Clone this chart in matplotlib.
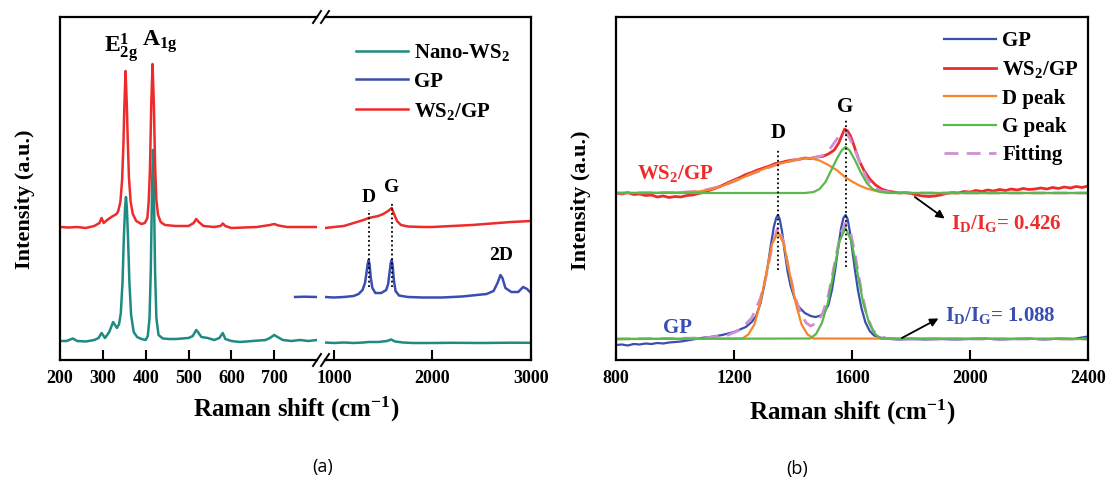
import matplotlib
matplotlib.use('Agg')
import matplotlib.pyplot as plt
from matplotlib.lines import Line2D

plt.rcParams['font.family'] = ['Liberation Serif', 'DejaVu Serif']
plt.rcParams['font.weight'] = 'bold'
plt.rcParams['axes.labelweight'] = 'bold'
plt.rcParams['mathtext.default'] = 'regular'
plt.rcParams['axes.linewidth'] = 1.6

C_TEAL = '#1e8a82'
C_BLUE = '#3a4db0'
C_RED = '#ee2b2b'
C_ORANGE = '#f5862a'
C_GREEN = '#5ab94a'
C_FIT = '#cf8fd6'

# ---------------- Panel (a) data (arbitrary intensity units) ----------------
# Nano-WS2, low-wavenumber segment
teal_lo_x = [200, 215, 230, 240, 260, 280, 290, 297, 305, 315, 324, 333, 338, 342, 346, 349, 352, 354, 356, 359,
             362, 366, 372, 380, 390, 400, 405, 409, 412, 415, 417, 419, 422, 425, 430, 440, 455, 470, 500, 510,
             518, 522, 530, 545, 560, 572, 580, 586, 600, 620, 650, 680, 690, 700, 708, 720, 740, 760, 780, 800]
teal_lo_y = [19, 19, 21.5, 19, 18.5, 20, 22, 27, 22, 28, 38, 32, 36, 47, 78, 122, 153, 163, 153, 120,
             78, 45, 28, 23, 21, 20, 24, 42, 90, 175, 210, 175, 88, 42, 25, 21.5, 21, 21, 22, 24,
             30, 28, 23, 22, 20, 22, 27, 21, 19, 18, 19, 20, 22, 25, 23, 20, 19, 20, 19, 20]
# Nano-WS2, high-wavenumber segment
teal_hi_x = [910, 1000, 1100, 1200, 1300, 1350, 1450, 1540, 1580, 1620, 1700, 1800, 2000, 2200, 2500, 2800, 3000]
teal_hi_y = [17.5, 17, 17.5, 17, 17.5, 18, 18, 19, 20.5, 18.5, 17.5, 17, 17, 17.2, 17, 17.3, 17.2]

# GP
gp_lo_x = [749, 770, 800]
gp_lo_y = [63, 63.3, 63]
gp_hi_x = [910, 1000, 1100, 1200, 1250, 1290, 1315, 1330, 1342, 1352, 1362, 1374, 1390, 1420, 1480, 1530, 1550,
           1565, 1576, 1586, 1596, 1608, 1625, 1660, 1750, 1900, 2100, 2300, 2450, 2550, 2620, 2660, 2690, 2710,
           2740, 2800, 2870, 2920, 2960, 3000]
gp_hi_y = [63, 62.5, 63, 64, 66, 70, 77, 87, 96, 100, 95, 82, 72, 67, 67, 70, 76,
           88, 97, 100, 94, 80, 69, 64.5, 63, 62.5, 62.5, 63.5, 65, 66, 69, 77, 85, 82,
           72, 68, 68, 73, 71, 67]

# WS2/GP
ws_lo_x = [200, 220, 240, 260, 280, 292, 297, 302, 310, 320, 332, 336, 341, 345, 348, 350, 353, 356, 358, 361,
           365, 370, 378, 390, 398, 404, 407, 410, 413, 416, 419, 422, 425, 429, 435, 445, 470, 500, 512, 518,
           524, 535, 560, 575, 580, 586, 600, 630, 660, 690, 700, 710, 730, 760, 800]
ws_lo_y = [133, 132.5, 133, 132, 134, 137, 142, 137, 140, 143, 146, 149, 158, 180, 215, 250, 289, 255, 222, 182,
           158, 146, 139, 136, 137, 142, 158, 190, 255, 296, 258, 195, 160, 145, 138, 135, 134, 134, 137, 141,
           138, 134, 133, 134, 136.5, 134, 132, 132.5, 133, 135, 136, 134.5, 133, 133, 133]
ws_hi_x = [910, 1000, 1100, 1200, 1300, 1352, 1400, 1450, 1500, 1550, 1586, 1610, 1640, 1680, 1750, 1900, 2000,
           2200, 2400, 2600, 2800, 3000]
ws_hi_y = [132, 133, 134, 137, 140, 142, 143, 144, 146, 149, 152, 146, 139, 135, 133.5, 133, 133,
           134, 135, 136.5, 138, 139]

a_peak_pos = [1352, 1586]
a_peak_top = [150, 158]
a_peak_bottom = [73, 73]

# ---------------- Panel (b) data ----------------
b_ws_x = [800, 820, 840, 860, 880, 900, 920, 940, 960, 980, 1000, 1020, 1040, 1060, 1080, 1100, 1120, 1140, 1160,
          1180, 1200, 1220, 1240, 1260, 1280, 1300, 1320, 1340, 1360, 1380, 1400, 1420, 1440, 1460, 1480, 1500,
          1520, 1540, 1555, 1565, 1575, 1585, 1595, 1605, 1615, 1625, 1640, 1660, 1680, 1700, 1720, 1740, 1760,
          1780, 1800, 1820, 1840, 1860, 1880, 1900, 1920, 1940, 1960, 1980, 2000, 2020, 2040, 2060, 2080, 2100,
          2120, 2140, 2160, 2180, 2200, 2220, 2240, 2260, 2280, 2300, 2320, 2340, 2360, 2380, 2400]
b_ws_y = [167, 166, 167.5, 165.5, 166, 164.5, 165, 163, 164, 162.5, 163.5, 163, 164.5, 165, 166.5, 168, 170, 172,
          174.5, 177.5, 180, 182.5, 185.5, 187.5, 190, 192, 194, 196.5, 197.5, 199, 200, 200.5, 202, 201.5, 203,
          203.5, 206, 210, 217, 224, 231, 229, 224, 216, 207, 199, 190, 181, 175, 171, 169, 168, 167, 167.5, 166.5,
          165, 164, 163.5, 164, 165, 166.5, 167.5, 167, 168.5, 168, 169.5, 168.5, 170, 169, 170.5, 169.5, 171, 170,
          171.5, 170.5, 171, 172, 171, 172.5, 171.5, 173, 172, 173.5, 172.5, 174]
b_ws_d_x = [800, 1000, 1080, 1120, 1160, 1200, 1250, 1300, 1350, 1400, 1430, 1458, 1490, 1520, 1550, 1576, 1600,
            1625, 1650, 1675, 1700, 1740, 1800, 2400]
b_ws_d_y = [167, 167.5, 168.5, 170.5, 174, 178.5, 185, 191, 196, 199.5, 201.5, 202, 199.5, 195, 189.5, 183, 178.5,
            174.5, 171.5, 169.5, 168, 167.3, 167, 167]
b_ws_g_x = [800, 1440, 1470, 1490, 1510, 1530, 1550, 1565, 1578, 1592, 1610, 1630, 1650, 1670, 1695, 1730, 2400]
b_ws_g_y = [167, 167, 168, 171, 178, 190, 202, 209.5, 213, 209.5, 200, 187.5, 177, 171, 168, 167, 167]
b_ws_fit_x = [800, 1000, 1080, 1160, 1250, 1350, 1430, 1470, 1500, 1530, 1550, 1565, 1578, 1592, 1610, 1630,
              1650, 1675, 1700, 1740, 1800, 2400]
b_ws_fit_y = [167, 167.5, 168.5, 174, 185, 196, 201.5, 202, 204.5, 213, 221.5, 226.5, 228, 222, 210, 195,
              181.5, 172, 169, 167.5, 167, 167]

b_gp_x = [800, 820, 840, 860, 880, 900, 920, 940, 960, 980, 1000, 1020, 1040, 1060, 1080, 1100, 1120, 1140, 1160,
          1180, 1200, 1220, 1240, 1260, 1275, 1290, 1305, 1315, 1325, 1335, 1343, 1349, 1355, 1363, 1372, 1382,
          1392, 1405, 1420, 1440, 1460, 1475, 1490, 1505, 1520, 1532, 1543, 1553, 1563, 1571, 1578, 1585, 1593,
          1601, 1610, 1620, 1632, 1645, 1660, 1675, 1700, 1730, 1760, 1800, 1850, 1900, 1950, 2000, 2050, 2100,
          2150, 2200, 2250, 2300, 2350, 2380, 2400]
b_gp_y = [15, 15.5, 14.5, 16, 15.5, 16.5, 16, 17, 16.5, 17.5, 18, 18.5, 19.5, 20.5, 21.5, 22.5, 23, 24, 25,
          26.5, 28, 30.5, 33, 38, 44, 57, 78, 95, 115, 133, 142, 145, 141, 128, 108, 88,
          74, 62, 53, 47, 44, 43, 44, 47, 55, 70, 90, 112, 132, 142, 145, 141, 128,
          110, 90, 70, 52, 38, 29, 24.5, 22, 21, 20.5, 21, 20.5, 21, 20.5, 21, 21.5, 20.5,
          21, 21.5, 20.5, 21.5, 21, 22.5, 23.5]
b_gp_d_x = [800, 1229, 1249, 1269, 1289, 1309, 1329, 1349, 1369, 1389, 1409, 1429, 1449, 1469, 2400]
b_gp_d_y = [21, 21.5, 25.7, 35.5, 57, 86, 116, 128, 116, 86, 57, 35.5, 25.7, 21.5, 21]
b_gp_g_x = [800, 1458, 1478, 1498, 1518, 1538, 1558, 1578, 1598, 1618, 1638, 1658, 1678, 1698, 2400]
b_gp_g_y = [21, 21.5, 26, 37, 57, 88, 119, 132, 119, 88, 57, 37, 26, 21.5, 21]
b_gp_fit_x = [800, 1100, 1180, 1220, 1260, 1290, 1310, 1330, 1349, 1368, 1385, 1405, 1425, 1445, 1460, 1480,
              1500, 1520, 1540, 1560, 1578, 1595, 1612, 1630, 1650, 1670, 1690, 1720, 1760, 2400]
b_gp_fit_y = [21, 22, 25, 30, 42, 62, 85, 115, 133, 118, 92, 65, 47, 37, 34, 37,
              46, 65, 95, 125, 137, 128, 103, 72, 45, 30, 24, 21.5, 21, 21]

b_peak_pos = [1349, 1578]
b_peak_top = [210, 240]
b_peak_bottom = [90, 93]

# ---------------- Figure ----------------
W, H = 1108, 482
fig = plt.figure(figsize=(W / 100, H / 100), dpi=100)


def box(l, r, t, b):
    return [l / W, 1 - b / H, (r - l) / W, (b - t) / H]


ax1 = fig.add_axes(box(60, 317, 17, 360))
ax2 = fig.add_axes(box(325, 531, 17, 360))
axb = fig.add_axes(box(616, 1088, 17, 360))

LW = 1.8
hT, = ax1.plot(teal_lo_x, teal_lo_y, color=C_TEAL, lw=LW)
ax2.plot(teal_hi_x, teal_hi_y, color=C_TEAL, lw=LW)
hB, = ax1.plot(gp_lo_x, gp_lo_y, color=C_BLUE, lw=LW)
ax2.plot(gp_hi_x, gp_hi_y, color=C_BLUE, lw=LW)
hR, = ax1.plot(ws_lo_x, ws_lo_y, color=C_RED, lw=LW)
ax2.plot(ws_hi_x, ws_hi_y, color=C_RED, lw=LW)

ax2.vlines(a_peak_pos, a_peak_bottom, a_peak_top, colors='black', linestyles=(0, (1, 1.5)), lw=1.3)

ax1.set_xlim(200, 800)
ax2.set_xlim(909, 3000)
for a in (ax1, ax2):
    a.set_ylim(0, 343)
    a.set_yticks([])
    a.tick_params(axis='x', direction='in', length=7, width=1.5, labelsize=13, pad=7)
ax1.set_xticks([200, 300, 400, 500, 600, 700])
ax2.set_xticks([1000, 2000, 3000])
ax1.spines['right'].set_visible(False)
ax2.spines['left'].set_visible(False)

# break marks
for xp in (317, 325):
    for yp in (17, 360):
        fig.add_artist(Line2D([(xp - 4) / W, (xp + 4) / W], [1 - (yp + 6) / H, 1 - (yp - 6) / H],
                              color='black', lw=1.4, transform=fig.transFigure, clip_on=False))

ax1.text(342, 312, r'$E^1_{2g}$', fontsize=17, ha='center', va='center')
ax1.text(433, 318, r'$A_{1g}$', fontsize=17, ha='center', va='center')
ax2.text(1352, 163, 'D', fontsize=14, ha='center', va='center')
ax2.text(1586, 172, 'G', fontsize=14, ha='center', va='center')
ax2.text(2697, 105, '2D', fontsize=14, ha='center', va='center')

ax1.set_ylabel('Intensity (a.u.)', fontsize=16)
ax1.yaxis.set_label_coords((35 - 60) / 257, (360 - 199) / 343)
fig.text(296 / W, 1 - 409 / H, 'Raman shift (cm$^{-1}$)', fontsize=18, ha='center', va='center')

ax2.legend(handles=[hT, hB, hR], labels=['Nano-WS$_2$', 'GP', 'WS$_2$/GP'], loc='upper left',
           bbox_to_anchor=(356 / W, 1 - 42 / H), bbox_transform=fig.transFigure, frameon=False,
           fontsize=15, handlelength=2.5, handletextpad=0.3, labelspacing=0.42, borderpad=0, borderaxespad=0)

# ---------------- Panel (b) ----------------
l_ws, = axb.plot(b_ws_x, b_ws_y, color=C_RED, lw=2.0)
l_gp, = axb.plot(b_gp_x, b_gp_y, color=C_BLUE, lw=1.6)
l_fit, = axb.plot(b_ws_fit_x, b_ws_fit_y, color=C_FIT, lw=2.0, ls=(0, (5, 3)))
axb.plot(b_gp_fit_x, b_gp_fit_y, color=C_FIT, lw=2.0, ls=(0, (5, 3)))
l_d, = axb.plot(b_ws_d_x, b_ws_d_y, color=C_ORANGE, lw=1.6)
axb.plot(b_gp_d_x, b_gp_d_y, color=C_ORANGE, lw=1.6)
l_g, = axb.plot(b_ws_g_x, b_ws_g_y, color=C_GREEN, lw=1.6)
axb.plot(b_gp_g_x, b_gp_g_y, color=C_GREEN, lw=1.6)

axb.vlines(b_peak_pos, b_peak_bottom, b_peak_top, colors='black', linestyles=(0, (1, 1.5)), lw=1.3)
axb.text(1349, 227, 'D', fontsize=15, ha='center', va='center')
axb.text(1576, 253, 'G', fontsize=15, ha='center', va='center')
axb.text(1000, 187, 'WS$_2$/GP', fontsize=15, color=C_RED, ha='center', va='center')
axb.text(1007, 32, 'GP', fontsize=15, color=C_BLUE, ha='center', va='center')

axb.annotate('I$_D$/I$_G$= 0.426', xy=(1813, 163), xytext=(1935, 137), fontsize=15, color=C_RED,
             ha='left', va='center',
             arrowprops=dict(arrowstyle='<|-', color='black', lw=1.3, shrinkA=3, shrinkB=0,
                             mutation_scale=12, relpos=(0, 0.5)))
axb.annotate('I$_D$/I$_G$= 1.088', xy=(1769, 22), xytext=(1915, 45), fontsize=15, color=C_BLUE,
             ha='left', va='center',
             arrowprops=dict(arrowstyle='<|-', color='black', lw=1.3, shrinkA=3, shrinkB=0,
                             mutation_scale=12, relpos=(0, 0.5)))

axb.set_xlim(800, 2400)
axb.set_ylim(0, 343)
axb.set_yticks([])
axb.set_xticks([800, 1200, 1600, 2000, 2400])
axb.tick_params(axis='x', direction='in', length=7, width=1.5, labelsize=13, pad=7)
axb.set_ylabel('Intensity (a.u.)', fontsize=16)
axb.yaxis.set_label_coords((591 - 616) / 472, (360 - 200) / 343)
axb.set_xlabel('Raman shift (cm$^{-1}$)', fontsize=18, labelpad=8)

axb.legend(handles=[l_gp, l_ws, l_d, l_g, l_fit], labels=['GP', 'WS$_2$/GP', 'D peak', 'G peak', 'Fitting'],
           loc='upper left', bbox_to_anchor=(944 / W, 1 - 31 / H), bbox_transform=fig.transFigure,
           frameon=False, fontsize=15, handlelength=2.5, handletextpad=0.3, labelspacing=0.4,
           borderpad=0, borderaxespad=0)

fig.text(323 / W, 1 - 467 / H, '(a)', fontsize=13, fontfamily='Open Sans', fontweight='normal',
         ha='center', va='center')
fig.text(797 / W, 1 - 469 / H, '(b)', fontsize=13, fontfamily='Open Sans', fontweight='normal',
         ha='center', va='center')

fig.savefig('out.png', dpi=100)
